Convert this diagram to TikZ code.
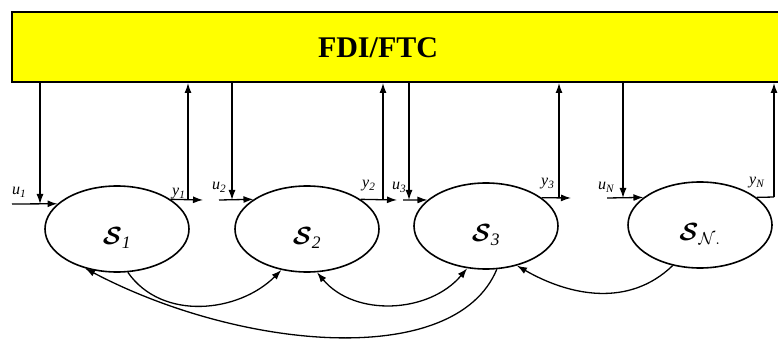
\documentclass[tikz,border=0pt]{standalone}
\usepackage{fontspec}
\setmainfont{Liberation Serif}
\usetikzlibrary{arrows.meta,shapes.geometric}
\definecolor{fdiyellow}{RGB}{255,255,0}
\tikzset{
  sysnode/.style={ellipse, draw, line width=1.6pt, minimum width=144pt, minimum height=86pt, inner sep=0pt,
     font=\fontsize{25}{28}\selectfont},
  conn/.style={line width=1.3pt, -{Latex[length=10pt,width=7pt]}},
  plain/.style={line width=1.3pt},
  lab/.style={anchor=base west, inner sep=0pt, font=\fontsize{16}{18}\selectfont\itshape},
  fdibox/.style={draw, line width=1.6pt, fill=fdiyellow}
}
\newcommand{\Slab}[1]{\smash{\raisebox{-16pt}{{\boldmath$\mathcal{S}$}$_{#1}$}}}
\begin{document}
\begin{tikzpicture}[x=1pt,y=1pt]
\useasboundingbox (0,0) rectangle (778,340);
\clip (0,0) rectangle (778,340);
% top box
\node[fdibox, minimum width=790pt, minimum height=70pt, anchor=south west, inner sep=0pt] (box) at (11,257) {};
\node[font=\fontsize{30}{34}\selectfont\bfseries] (title) at (378,292) {FDI/FTC};
% systems
\node[sysnode] (s1) at (117,111) {\Slab{\mathit{1}}};
\node[sysnode] (s2) at (307,111) {\Slab{\mathit{2}}};
\node[sysnode] (s3) at (486,114) {\Slab{\mathit{3}}};
\node[sysnode] (sN) at (700,115) {\Slab{\mathcal{N}.}};
% coordinates
\coordinate (a1) at (12,136);   \coordinate (j1) at (40,136);
\coordinate (b1) at (203,140);  \coordinate (k1) at (188,140);
\coordinate (a2) at (219,140);  \coordinate (j2) at (232,140);
\coordinate (b2) at (397,140);  \coordinate (k2) at (383,140);
\coordinate (a3) at (403,140);  \coordinate (j3) at (409,140);
\coordinate (b3) at (571,142);  \coordinate (k3) at (559,142);
\coordinate (aN) at (607,142);  \coordinate (jN) at (623,142);
\coordinate (kN) at (774,143);
\coordinate (c1) at (455,-30);  \coordinate (c2) at (240,-10);
% inputs
\draw[conn] (a1) -- (s1.157);
\draw[conn] (j1 |- box.south) -- (j1);
\draw[conn] (a2) -- (s2.151);
\draw[conn] (j2 |- box.south) -- (j2);
\draw[conn] (a3) -- (s3.156);
\draw[conn] (j3 |- box.south) -- (j3);
\draw[conn] (aN) -- (sN.154);
\draw[conn] (jN |- box.south) -- (jN);
% outputs
\draw[conn] (s1.29) -- (b1);
\draw[conn] (k1) -- (k1 |- box.south);
\draw[conn] (s2.29) -- (b2);
\draw[conn] (k2) -- (k2 |- box.south);
\draw[conn] (s3.27) -- (b3);
\draw[conn] (k3) -- (k3 |- box.south);
\draw[plain] (sN.26) -- (kN);
\draw[conn] (kN) -- (kN |- box.south);
% labels
\node[lab] (lu1) at (12,145) {u\textsubscript{1}};
\node[lab] (ly1) at (172,144) {y\textsubscript{1}};
\node[lab] (lu2) at (212,150) {u\textsubscript{2}};
\node[lab] (ly2) at (362,152) {y\textsubscript{2}};
\node[lab] (lu3) at (392,150) {u\textsubscript{3}};
\node[lab] (ly3) at (541,154) {y\textsubscript{3}};
\node[lab] (luN) at (598,150) {u\textsubscript{N}};
\node[lab] (lyN) at (749,155) {y\textsubscript{N}};
% couplings
\draw[conn] (s1.284) to[out=-55, in=-135] (s2.238);
\draw[line width=1.3pt, {Latex[length=10pt,width=7pt]}-{Latex[length=10pt,width=7pt]}] (s2.283) to[out=-50, in=-130] (s3.246);
\draw[conn] (s3.284) .. controls (c1) and (c2) .. (s1.231);
\draw[conn] (sN.236) to[out=-136, in=-30] (s3.308);
\end{tikzpicture}
\end{document}
